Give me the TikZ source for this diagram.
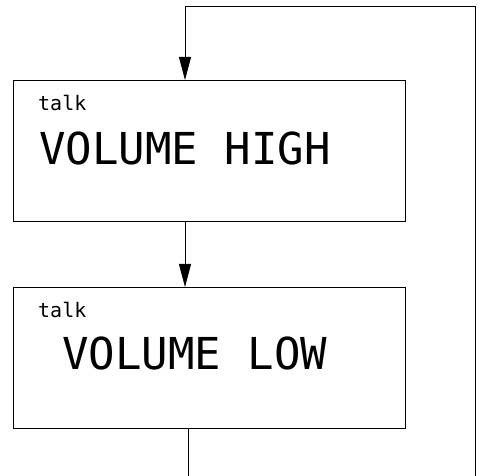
\documentclass[tikz,border=0pt]{standalone}
\usepackage{fontspec}
\setmonofont{DejaVu Sans Mono}
\usetikzlibrary{arrows.meta}
\begin{document}
\begin{tikzpicture}[x=1pt,y=-1pt,
  panel/.style={draw,line width=1.3pt,minimum width=392pt,minimum height=141pt,inner sep=0pt,anchor=north west},
  small/.style={anchor=base west,inner sep=0pt,font=\ttfamily\fontsize{20}{22}\selectfont},
  big/.style={anchor=base west,inner sep=0pt,font=\ttfamily\fontsize{44}{46}\selectfont},
  conn/.style={line width=0.9pt},
  tip/.style={-{Triangle[length=23pt,width=12pt]}}]
\useasboundingbox (0,0) rectangle (483,476);
\node[panel] (b1) at (13,80) {};
\node[panel] (b2) at (13,287) {};
\node[small] (t1) at (38,111) {talk};
\node[big] (v1) at (39,165) {VOLUME HIGH};
\node[small] (t2) at (38,318) {talk};
\node[big] (v2) at (62,370) {VOLUME LOW};
\coordinate (in1) at (185,80);
\coordinate (out1) at (185,221);
\coordinate (in2) at (185,287);
\coordinate (out2) at (188,429);
\coordinate (end2) at (188,476);
\coordinate (rb) at (475,476);
\coordinate (rt) at (475,6);
\draw[conn,tip] (rb) -- (rt) -| (in1);
\draw[conn,tip] (out1) -- (in2);
\draw[conn] (out2) -- (end2);
\end{tikzpicture}
\end{document}
